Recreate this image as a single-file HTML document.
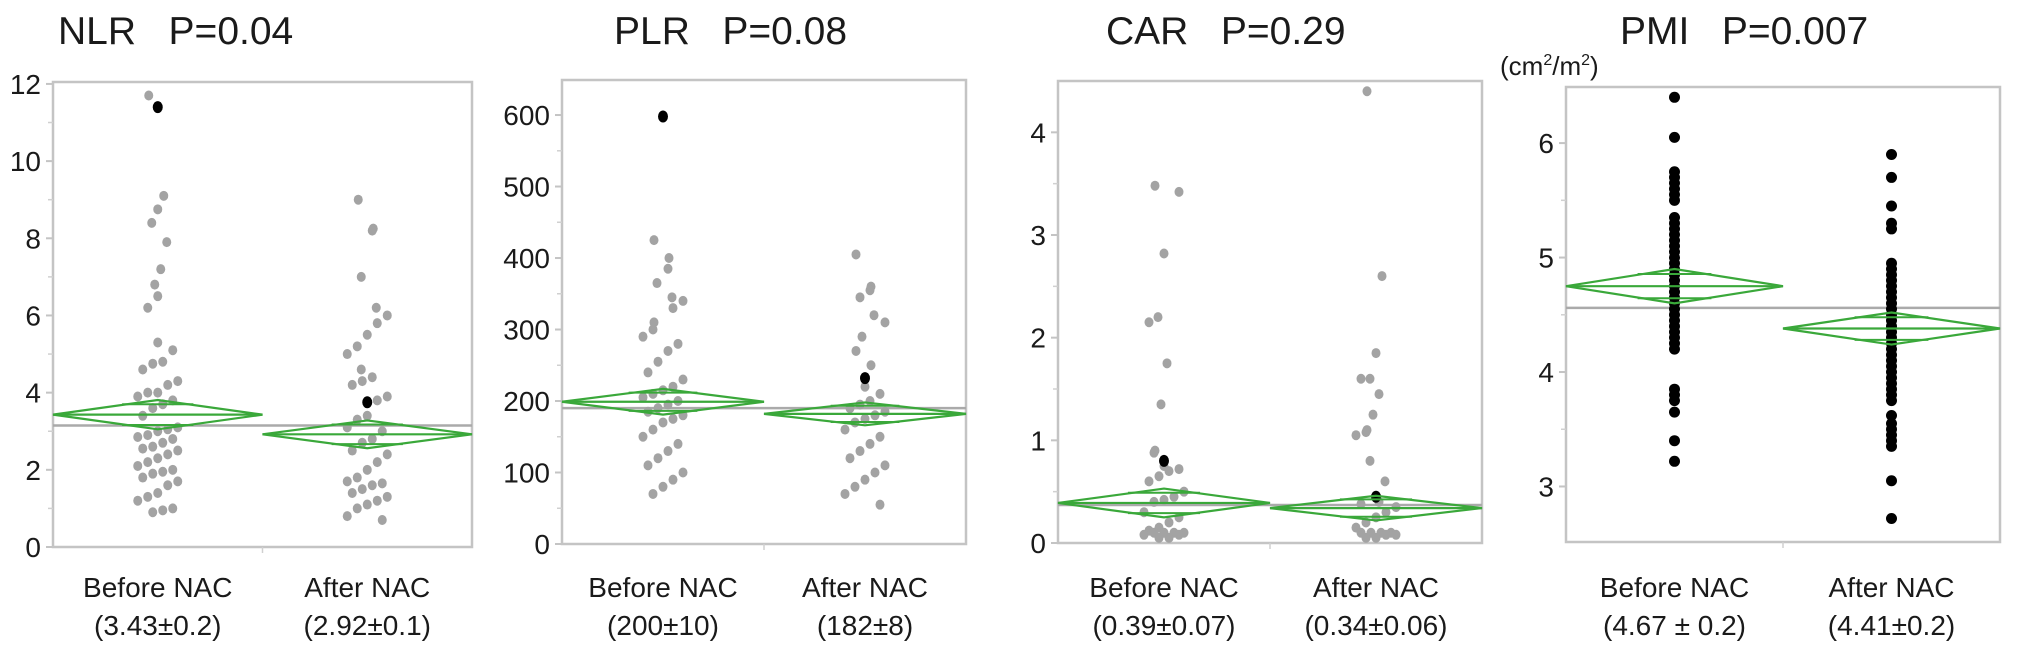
<!DOCTYPE html>
<html><head><meta charset="utf-8"><style>
html,body{margin:0;padding:0;background:#fff;}
body{width:2031px;height:653px;overflow:hidden;font-family:"Liberation Sans",Arial,sans-serif;}
svg text{font-family:"Liberation Sans",Arial,sans-serif;fill:#1a1a1a;}
</style></head><body>
<svg id="fig" width="2031" height="653" viewBox="0 0 2031 653" xmlns="http://www.w3.org/2000/svg"></svg>
<script>
// ---- data ----
const categories = ["Before NAC", "After NAC"];
const nlrBefore = [11.7,9.1,8.75,8.4,7.9,7.2,6.8,6.5,6.2,5.3,5.1,4.8,4.75,4.6,4.3,4.2,4.0,4.0,3.9,3.8,3.7,3.6,3.4,3.1,3.05,3.0,2.9,2.85,2.8,2.7,2.6,2.55,2.5,2.4,2.3,2.2,2.1,2.0,1.95,1.9,1.8,1.7,1.6,1.4,1.3,1.2,1.0,0.95,0.9];
const nlrBeforeHi = [11.4];
const nlrAfter = [9.0,8.25,8.2,7.0,6.2,6.0,5.8,5.5,5.2,5.0,4.6,4.4,4.3,4.2,3.9,3.8,3.4,3.3,3.1,3.0,2.8,2.7,2.5,2.4,2.2,2.0,1.8,1.7,1.65,1.6,1.5,1.4,1.3,1.2,1.1,1.0,0.8,0.7];
const nlrAfterHi = [3.75];
const plrBefore = [425,400,385,365,345,340,330,310,300,290,280,270,255,240,230,220,215,210,205,200,195,190,185,180,175,170,160,150,140,130,120,110,100,90,80,70];
const plrBeforeHi = [598];
const plrAfter = [405,360,355,345,320,310,290,270,250,220,210,200,195,190,185,180,175,170,160,150,140,130,120,110,100,90,80,70,55];
const plrAfterHi = [232];
const carBefore = [3.48,3.42,2.82,2.2,2.15,1.75,1.35,0.9,0.88,0.75,0.72,0.7,0.65,0.6,0.5,0.45,0.42,0.4,0.3,0.25,0.2,0.15,0.12,0.1,0.1,0.1,0.1,0.08,0.08,0.05,0.05];
const carBeforeHi = [0.8];
const carAfter = [4.4,2.6,1.85,1.6,1.6,1.45,1.25,1.1,1.08,1.05,0.8,0.6,0.4,0.38,0.35,0.3,0.25,0.2,0.15,0.1,0.1,0.1,0.1,0.08,0.08,0.05,0.05];
const carAfterHi = [0.45];
const pmiBefore = [6.4,6.05,5.75,5.7,5.65,5.6,5.55,5.5,5.35,5.3,5.25,5.2,5.15,5.1,5.05,5.0,4.95,4.9,4.85,4.8,4.75,4.7,4.65,4.6,4.55,4.5,4.45,4.4,4.35,4.3,4.25,4.2,3.85,3.8,3.75,3.65,3.4,3.22];
const pmiAfter = [5.9,5.7,5.45,5.3,5.25,4.95,4.9,4.85,4.8,4.75,4.7,4.65,4.6,4.55,4.5,4.45,4.4,4.35,4.3,4.25,4.2,4.15,4.1,4.05,4.0,3.95,3.9,3.85,3.8,3.75,3.62,3.55,3.5,3.45,3.4,3.35,3.05,2.72];
const nlrMeans = [3.43, 2.92];
const nlrHalfCI = [0.38, 0.36];
const nlrGrand = [3.15];
const plrMeans = [199, 182];
const plrHalfCI = [18, 16];
const plrGrand = [190];
const carMeans = [0.39, 0.34];
const carHalfCI = [0.14, 0.12];
const carGrand = [0.37];
const pmiMeans = [4.75, 4.38];
const pmiHalfCI = [0.15, 0.14];
const pmiGrand = [4.56];
const nlrLabels = ["(3.43±0.2)", "(2.92±0.1)"];
const plrLabels = ["(200±10)", "(182±8)"];
const carLabels = ["(0.39±0.07)", "(0.34±0.06)"];
const pmiLabels = ["(4.67 ± 0.2)", "(4.41±0.2)"];
const nlrTicks = [0,2,4,6,8,10,12];
const plrTicks = [0,100,200,300,400,500,600];
const carTicks = [0,1,2,3,4];
const pmiTicks = [3,4,5,6];

const NS = "http://www.w3.org/2000/svg";
const svg = document.getElementById("fig");
function mk(tag, attrs, parent){
  const e = document.createElementNS(NS, tag);
  for (const k in attrs) e.setAttribute(k, attrs[k]);
  (parent||svg).appendChild(e);
  return e;
}

function panel(cfg){
  const g = mk("g", {});
  
  
  const L=cfg.left, R=cfg.right, T=cfg.top, B=cfg.bottom;
  const y = v => B - (v - cfg.min) / (cfg.max - cfg.min) * (B - T);
  const mid = (L + R) / 2;
  const xc = [L + (mid - L) * 0.5, mid + (R - mid) * 0.5];
  const t = mk("text", {x: cfg.titleX, y: 44, "font-size": 39}, g);
  t.style.whiteSpace = "pre";
  t.textContent = cfg.title;
  
  
  const fr = mk("rect", {x:L, y:T, width:R-L, height:B-T, fill:"#fff", stroke:"#c4c4c4", "stroke-width":2.5}, g);
  
  
  const step = cfg.ticks[1] - cfg.ticks[0];
  cfg.ticks.forEach((tv) => {
    const ty = y(tv);
    const tk = mk("line", {x1:L-7, x2:L, y1:ty, y2:ty, stroke:"#c4c4c4", "stroke-width":2}, g);
    
    
    const tl = mk("text", {x:L-12, y:ty+10, "font-size":28, "text-anchor":"end"}, g);
    tl.textContent = String(tv);
    
    
    const mv = tv + step/2;
    if (y(mv) > T) {
      const mt = mk("line", {x1:L-5, x2:L, y1:y(mv), y2:y(mv), stroke:"#d0d0d0", "stroke-width":1.5}, g);
      
      
    }
  });
  if (cfg.min < cfg.ticks[0]) {
    const mv = cfg.ticks[0] - step/2;
    if (y(mv) < B) {
      const mt = mk("line", {x1:L-5, x2:L, y1:y(mv), y2:y(mv), stroke:"#d0d0d0", "stroke-width":1.5}, g);
      
      
    }
  }
  const ct = mk("line", {x1:mid, x2:mid, y1:B, y2:B+6, stroke:"#d0d0d0", "stroke-width":1.5}, g);
  
  
  const gm = mk("line", {x1:L, x2:R, y1:y(cfg.grand[0]), y2:y(cfg.grand[0]), stroke:"#aaaaaa", "stroke-width":2.5}, g);
  
  
  const ptColor = cfg.black ? "#000" : "#a3a3a3";
  cfg.series.forEach((vals, s) => {
    vals.forEach((v, i) => {
      const near = Math.abs(v - (i>0 ? vals[i-1] : -99)) < (cfg.max-cfg.min)*0.025;
      const off = cfg.black ? 0 : (near ? (((i * 7) % 9) - 4) * 5 : (((i * 5) % 7) - 3) * 3);
      const c = mk("ellipse", {cx: xc[s] + off, cy: y(v), rx: cfg.black?5.5:4.5, ry: cfg.black?5.5:5, fill: ptColor}, g);
      
      
    });
    (cfg.hi[s] || []).forEach(v => {
      const c = mk("ellipse", {cx: xc[s], cy: y(v), rx: 5, ry: 6, fill: "#000"}, g);
      
      
    });
  });
  cfg.means.forEach((m, s) => {
    const x0 = s===0 ? L : mid, x1 = s===0 ? mid : R, cx = (x0+x1)/2, W = x1 - x0;
    const h = cfg.half[s];
    const d = mk("polygon", {points: `${x0},${y(m)} ${cx},${y(m+h)} ${x1},${y(m)} ${cx},${y(m-h)}`, fill:"none", stroke:"#3aa83a", "stroke-width":2.2}, g);
    
    
    const ml = mk("line", {x1:x0, x2:x1, y1:y(m), y2:y(m), stroke:"#3aa83a", "stroke-width":2.2}, g);
    
    
    [1,-1].forEach(sg => {
      const oy = y(m + sg*h*0.707);
      const ol = mk("line", {x1:cx - W*0.17, x2:cx + W*0.17, y1:oy, y2:oy, stroke:"#3aa83a", "stroke-width":2}, g);
      
      
    });
  });
  categories.forEach((c, s) => {
    const a = mk("text", {x: xc[s], y: 597, "font-size":28, "text-anchor":"middle"}, g);
    a.textContent = c;
    
    
    const b = mk("text", {x: xc[s], y: 635, "font-size":28, "text-anchor":"middle"}, g);
    b.textContent = cfg.labels[s];
    
    
  });
}

panel({key:"nlr", title:"NLR   P=0.04", titleX:58, left:53, right:472, top:82, bottom:547, min:0, max:12.05,
  ticks:nlrTicks, series:[nlrBefore,nlrAfter], hi:[nlrBeforeHi,nlrAfterHi], means:nlrMeans, half:nlrHalfCI, grand:nlrGrand, labels:nlrLabels});
panel({key:"plr", title:"PLR   P=0.08", titleX:614, left:562, right:966, top:80, bottom:544, min:0, max:649,
  ticks:plrTicks, series:[plrBefore,plrAfter], hi:[plrBeforeHi,plrAfterHi], means:plrMeans, half:plrHalfCI, grand:plrGrand, labels:plrLabels});
panel({key:"car", title:"CAR   P=0.29", titleX:1106, left:1058, right:1482, top:81, bottom:543, min:0, max:4.5,
  ticks:carTicks, series:[carBefore,carAfter], hi:[carBeforeHi,carAfterHi], means:carMeans, half:carHalfCI, grand:carGrand, labels:carLabels});
panel({key:"pmi", title:"PMI   P=0.007", titleX:1620, left:1566, right:2000, top:87, bottom:542, min:2.515, max:6.49, black:true,
  ticks:pmiTicks, series:[pmiBefore,pmiAfter], hi:[[],[]], means:pmiMeans, half:pmiHalfCI, grand:pmiGrand, labels:pmiLabels});

const unit = mk("text", {x:1500, y:75, "font-size":26});
unit.innerHTML = '(cm<tspan font-size="16" dy="-10">2</tspan><tspan dy="10">/m</tspan><tspan font-size="16" dy="-10">2</tspan><tspan dy="10">)</tspan>';


</script>
</body></html>
